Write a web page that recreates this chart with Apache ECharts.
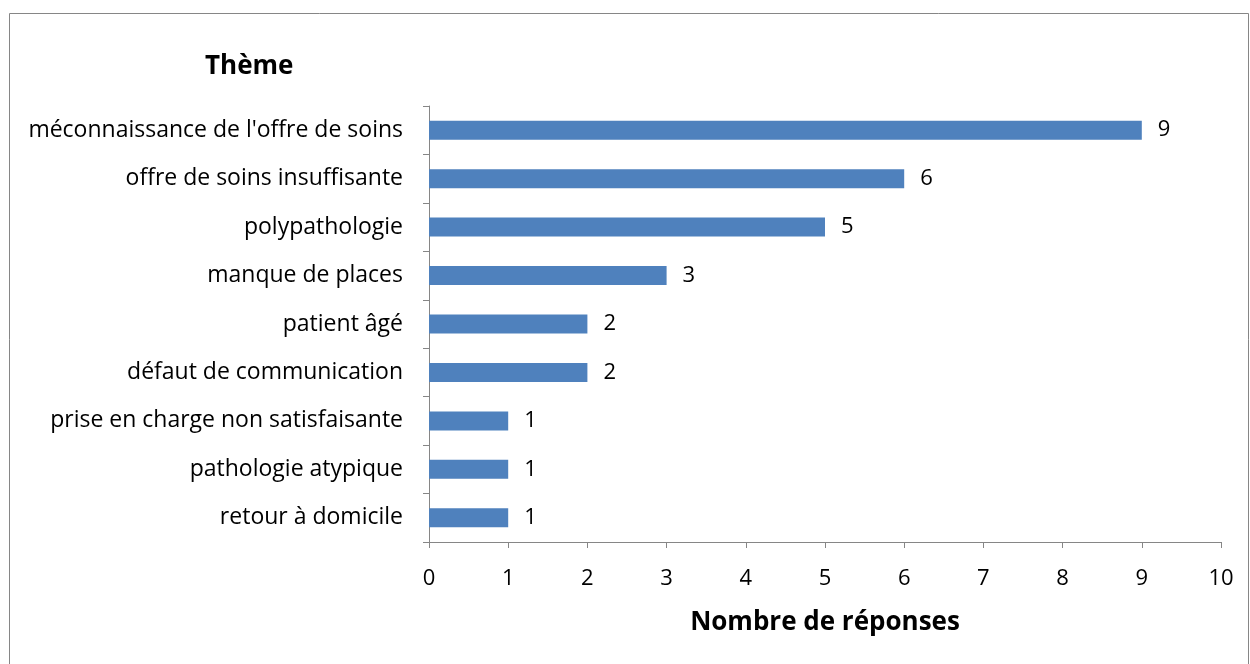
<!DOCTYPE html>
<html><head><meta charset="utf-8">
<script src="https://cdn.jsdelivr.net/npm/echarts@6/dist/echarts.min.js"></script>
<style>html,body{margin:0;padding:0;background:#fff}#c{width:1250px;height:664px}</style>
</head><body><div id="c"></div>
<script>
const categories = ["retour à domicile","pathologie atypique","prise en charge non satisfaisante","défaut de communication","patient âgé","manque de places","polypathologie","offre de soins insuffisante","méconnaissance de l'offre de soins"];
const values = [1,1,1,2,2,3,5,6,9];
const FONT = "'Open Sans', sans-serif";
const chart = echarts.init(document.getElementById('c'));
chart.setOption({
  animation:false,
  backgroundColor:'#fff',
  graphic:[{type:'rect',shape:{x:9.5,y:13.5,width:1239,height:700},style:{fill:'none',stroke:'#868686',lineWidth:1}},
    {type:'text',x:205,y:67,style:{text:'Thème',font:"bold 26px "+FONT,fill:'#000',verticalAlign:'middle'}}],
  grid:{left:429,right:29,top:106,bottom:122},
  xAxis:{type:'value',min:0,max:10,interval:1,
    name:'Nombre de réponses',nameLocation:'middle',nameGap:68,
    nameTextStyle:{fontFamily:FONT,fontWeight:'bold',fontSize:26,color:'#000'},
    axisLine:{show:true,lineStyle:{color:'#868686'}},
    axisTick:{show:true,length:6,lineStyle:{color:'#868686'}},
    axisLabel:{fontFamily:FONT,fontSize:22,color:'#000',margin:26},
    splitLine:{show:false}},
  yAxis:{type:'category',data:categories,
    axisLine:{show:true,lineStyle:{color:'#868686'}},
    axisTick:{show:true,length:6,lineStyle:{color:'#868686'}},
    axisLabel:{fontFamily:FONT,fontSize:23,color:'#000',margin:26},
    splitLine:{show:false}},
  series:[{type:'bar',data:values,barWidth:19,itemStyle:{color:'#4F81BD'},
    label:{show:true,position:'right',distance:16,fontFamily:FONT,fontSize:22,color:'#000'}}]
});
</script></body></html>
